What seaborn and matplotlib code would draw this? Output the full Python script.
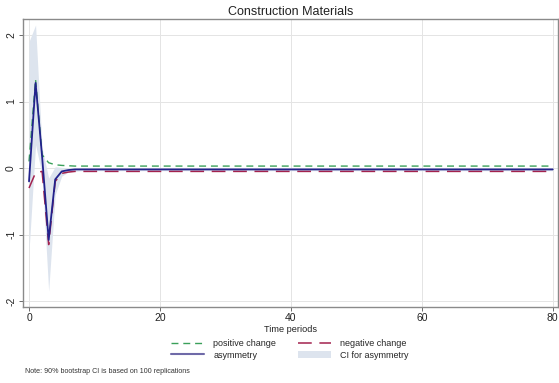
import numpy as np
import pandas as pd
import matplotlib
matplotlib.use("Agg")
import matplotlib.pyplot as plt
from matplotlib.patches import Patch
from matplotlib.lines import Line2D
import seaborn as sns

# Dynamic multipliers, horizon 0..80
periods = list(range(81))
n_tail = 81 - 8

positive_change = [0.10, 1.33, 0.20, 0.08, 0.05, 0.04, 0.035, 0.03] + [0.03] * n_tail
negative_change = [-0.30, -0.07, -0.05, -1.15, -0.20, -0.08, -0.06, -0.05] + [-0.05] * n_tail
asymmetry = [-0.20, 1.28, 0.17, -1.08, -0.17, -0.05, -0.03, -0.02] + [-0.02] * n_tail
ci_lower = [-1.25, 0.35, -0.10, -1.85, -0.40, -0.12, -0.06, -0.05] + [-0.04] * n_tail
ci_upper = [1.90, 2.15, 0.30, -0.15, 0.02, 0.01, 0.00, 0.00] + [0.00] * n_tail

title = "Construction Materials"
x_label = "Time periods"
x_ticks = [0, 20, 40, 60, 80]
y_ticks = [-2, -1, 0, 1, 2]
note = "Note: 90% bootstrap CI is based on 100 replications"

df = pd.DataFrame({
    "t": periods,
    "positive change": positive_change,
    "negative change": negative_change,
    "asymmetry": asymmetry,
    "lo": ci_lower,
    "hi": ci_upper,
})

sns.set_style("white")
plt.rcParams["font.family"] = ["Liberation Sans", "DejaVu Sans"]

fig = plt.figure(figsize=(5.59, 3.83), dpi=100)
ax = fig.add_axes([23 / 559, 1 - 306.5 / 383, (558 - 23) / 559, (306.5 - 19) / 383])

green = "#3aa05a"
red = "#a3224e"
navy = "#22228c"
ci_col = "#dde4ee"

ax.fill_between(df["t"], df["lo"], df["hi"], color=ci_col, lw=0, zorder=1)
sns.lineplot(data=df, x="t", y="positive change", ax=ax, color=green, lw=1.0, zorder=3)
sns.lineplot(data=df, x="t", y="negative change", ax=ax, color=red, lw=1.1, zorder=3)
sns.lineplot(data=df, x="t", y="asymmetry", ax=ax, color=navy, lw=1.3, zorder=4)
ax.lines[0].set_dashes([5, 3.5])
ax.lines[1].set_dashes([9, 5])

ax.set_xlim(-0.92, 80.8)
ax.set_ylim(-2.08, 2.24)
ax.set_xticks(x_ticks)
ax.set_yticks(y_ticks)
ax.set_xticklabels([str(v) for v in x_ticks], fontsize=7.5, color="#222222")
ax.set_yticklabels([str(v) for v in y_ticks], fontsize=7.5, color="#222222",
                   rotation=90, va="center")
ax.tick_params(axis="both", length=3, width=0.6, color="#555555", pad=2,
               bottom=True, left=True)
ax.grid(True, color="#e4e4e4", lw=0.7)
ax.set_axisbelow(True)
for s in ax.spines.values():
    s.set_color("#8a8a8a")
    s.set_linewidth(1.0)
ax.set_xlabel(x_label, fontsize=6.6, labelpad=1, color="#222222")
ax.set_ylabel("")
ax.set_title(title, fontsize=9, pad=3, color="#222222")

handles = [
    Line2D([], [], color=green, lw=1.0, dashes=[5, 3.5]),
    Line2D([], [], color="#6f6aa8", lw=1.5),
    Line2D([], [], color=red, lw=1.1, dashes=[9, 5]),
    Patch(facecolor=ci_col, edgecolor="none"),
]
labels = ["positive change", "asymmetry", "negative change", "CI for asymmetry"]
fig.legend(handles, labels, ncol=2, frameon=False, fontsize=6.5,
           loc="center", bbox_to_anchor=(290 / 559, 1 - 349.5 / 383),
           handlelength=3.6, handleheight=0.9, columnspacing=2.4,
           handletextpad=1.1, labelspacing=0.3)

fig.text(25 / 559, 1 - 371.5 / 383, note, fontsize=5.1, color="#333333", va="center")

fig.savefig("out.png", dpi=100)
